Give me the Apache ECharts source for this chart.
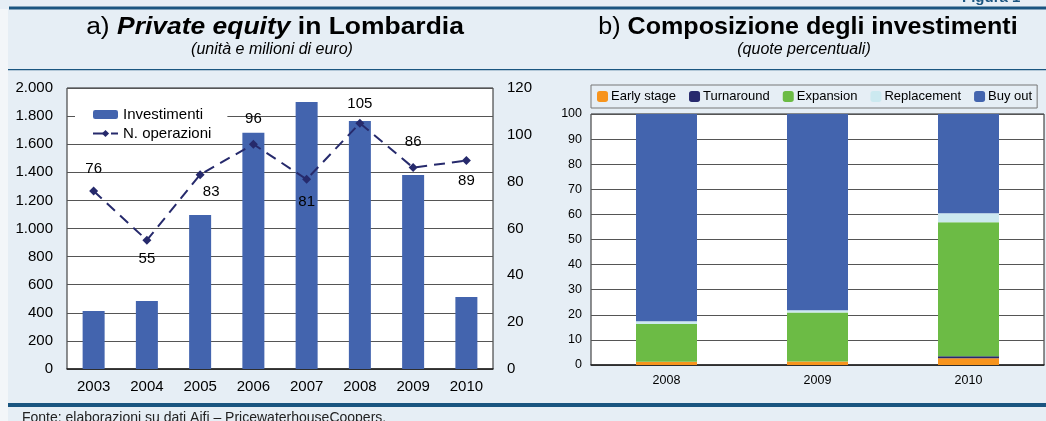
<!DOCTYPE html>
<html>
<head>
<meta charset="utf-8">
<script src="https://cdn.jsdelivr.net/npm/echarts@6/dist/echarts.min.js"></script>
<style>
  html, body { margin: 0; padding: 0; }
  #main { width: 1046px; height: 421px; }
</style>
</head>
<body>
<div id="main"></div>
<script>
// a) private equity in Lombardia
const anni = ['2003', '2004', '2005', '2006', '2007', '2008', '2009', '2010']
const investimenti = [413, 484, 1096, 1682, 1900, 1765, 1381, 512]
const operazioni = [76, 55, 83, 96, 81, 105, 86, 89]
const tickSinistra = [0, 2000, 200]
const tickDestra = [0, 120, 20]

// b) composizione degli investimenti
const anniComp = ['2008', '2009', '2010']
const earlyStage = [1.3, 1.4, 2.7]
const turnaround = [0, 0, 0.8]
const expansion = [15.0, 19.5, 53.4]
const replacement = [1.1, 0.9, 3.6]
const buyOut = [82.6, 78.2, 39.5]

const font = 'Liberation Sans, Arial, sans-serif'
const blu = '#4364ae'
const navy = '#262a6c'
const lineaScura = '#1a5580'

// posizione delle etichette della linea
const posEtichette = ['top', 'bottom', 'bottom', 'top', 'bottom', 'top', 'top', 'bottom']
const offEtichette = [[0, -3], [0, 0], [11, -2], [0, -6], [0, 4], [0, 0], [0, -7], [0, 1]]

const myChart = echarts.init(document.getElementById('main'))

const serieStack = (name, data, color) => ({
  name: name,
  type: 'bar',
  stack: 'tot',
  xAxisIndex: 1,
  yAxisIndex: 2,
  barWidth: 61,
  itemStyle: { color: color },
  data: data
})

myChart.setOption({
  backgroundColor: '#e6eef5',
  animation: false,
  textStyle: { fontFamily: font },
  graphic: [
    { type: 'rect', shape: { x: 0, y: 9, width: 8, height: 412 }, style: { fill: '#f3f6f9' } },
    { type: 'rect', shape: { x: 9, y: 6.5, width: 1040, height: 3 }, style: { fill: lineaScura } },
    { type: 'rect', shape: { x: 8, y: 69, width: 1040, height: 1.2 }, style: { fill: lineaScura } },
    { type: 'rect', shape: { x: 8, y: 403, width: 1040, height: 4 }, style: { fill: lineaScura } },
    {
      type: 'text', left: 962, top: -10,
      style: { text: 'Figura 1', font: 'bold 15px ' + font, fill: lineaScura }
    },
    {
      type: 'text', x: 275, y: 28, scaleX: 1.15,
      style: {
        text: '{a|a) }{b|Private equity}{c| in Lombardia}',
        align: 'center', verticalAlign: 'middle',
        rich: {
          a: { font: '23px ' + font, fill: '#000' },
          b: { font: 'italic bold 23px ' + font, fill: '#000' },
          c: { font: 'bold 23px ' + font, fill: '#000' }
        }
      }
    },
    {
      type: 'text', x: 272, y: 50,
      style: { text: '(unità e milioni di euro)', align: 'center', verticalAlign: 'middle', font: 'italic 16px ' + font, fill: '#000' }
    },
    {
      type: 'text', x: 808, y: 28, scaleX: 1.09,
      style: {
        text: '{a|b) }{c|Composizione degli investimenti}',
        align: 'center', verticalAlign: 'middle',
        rich: {
          a: { font: '23px ' + font, fill: '#000' },
          c: { font: 'bold 23px ' + font, fill: '#000' }
        }
      }
    },
    {
      type: 'text', x: 804, y: 50,
      style: { text: '(quote percentuali)', align: 'center', verticalAlign: 'middle', font: 'italic 16px ' + font, fill: '#000' }
    },
    {
      type: 'text', left: 22, top: 411,
      style: { text: 'Fonte: elaborazioni su dati Aifi – PricewaterhouseCoopers.', font: '14px ' + font, fill: '#222' }
    }
  ],
  legend: [
    {
      data: ['Investimenti', 'N. operazioni'],
      orient: 'vertical',
      left: 75,
      top: 104,
      padding: [3, 16, 3, 17],
      itemGap: 4,
      itemWidth: 25,
      itemHeight: 9,
      backgroundColor: '#fff',
      textStyle: { fontSize: 15, color: '#000', fontFamily: font }
    },
    {
      data: ['Early stage', 'Turnaround', 'Expansion', 'Replacement', 'Buy out'],
      left: 591,
      top: 85,
      width: 460,
      padding: [5, 5, 5, 6],
      itemGap: 13,
      itemWidth: 11,
      itemHeight: 11,
      borderColor: '#777',
      borderWidth: 1,
      textStyle: { fontSize: 13, color: '#000', fontFamily: font, padding: [0, 0, 0, -2] }
    }
  ],
  grid: [
    { left: 67, right: 553, top: 88, bottom: 52, show: true, backgroundColor: '#fff', borderColor: '#222', borderWidth: 1 },
    { left: 591, right: 2, top: 114, bottom: 56, show: true, backgroundColor: '#fff', borderColor: '#222', borderWidth: 1 }
  ],
  xAxis: [
    {
      type: 'category',
      gridIndex: 0,
      data: anni,
      axisLine: { lineStyle: { color: '#222', width: 1.5 } },
      axisTick: { inside: true, length: 5, lineStyle: { color: '#222' } },
      axisLabel: { fontSize: 15, color: '#000', margin: 10 }
    },
    {
      type: 'category',
      gridIndex: 1,
      data: anniComp,
      axisLine: { lineStyle: { color: '#222', width: 1.5 } },
      axisTick: { inside: true, length: 4, lineStyle: { color: '#444' } },
      axisLabel: { fontSize: 12.5, color: '#000', margin: 9 }
    }
  ],
  yAxis: [
    {
      type: 'value',
      gridIndex: 0,
      min: tickSinistra[0],
      max: tickSinistra[1],
      interval: tickSinistra[2],
      axisLine: { show: false },
      axisTick: { show: false },
      splitLine: { lineStyle: { color: '#555', width: 1 } },
      axisLabel: {
        fontSize: 15, color: '#000', margin: 14,
        formatter: v => v.toString().replace(/\B(?=(\d{3})+(?!\d))/g, '.')
      }
    },
    {
      type: 'value',
      gridIndex: 0,
      position: 'right',
      min: tickDestra[0],
      max: tickDestra[1],
      interval: tickDestra[2],
      axisLine: { show: false },
      axisTick: { show: false },
      splitLine: { show: false },
      axisLabel: { fontSize: 15, color: '#000', margin: 14 }
    },
    {
      type: 'value',
      gridIndex: 1,
      min: 0,
      max: 100,
      interval: 10,
      axisLine: { show: false },
      axisTick: { show: false },
      splitLine: { lineStyle: { color: '#555', width: 1 } },
      axisLabel: { fontSize: 12.5, color: '#000', margin: 9 }
    }
  ],
  series: [
    {
      name: 'Investimenti',
      type: 'bar',
      xAxisIndex: 0,
      yAxisIndex: 0,
      barWidth: 22,
      itemStyle: { color: blu },
      data: investimenti
    },
    {
      name: 'N. operazioni',
      type: 'line',
      xAxisIndex: 0,
      yAxisIndex: 1,
      symbol: 'diamond',
      symbolSize: 9,
      itemStyle: { color: navy },
      lineStyle: { color: navy, width: 2, type: [11, 7] },
      data: operazioni.map((v, i) => ({
        value: v,
        label: {
          show: true,
          position: posEtichette[i],
          offset: offEtichette[i],
          distance: 7,
          fontSize: 15,
          color: '#000'
        }
      }))
    },
    serieStack('Early stage', earlyStage, '#f7941d'),
    serieStack('Turnaround', turnaround, '#27296d'),
    serieStack('Expansion', expansion, '#6cbb45'),
    serieStack('Replacement', replacement, '#cce9f0'),
    serieStack('Buy out', buyOut, blu)
  ]
})
</script>
</body>
</html>
